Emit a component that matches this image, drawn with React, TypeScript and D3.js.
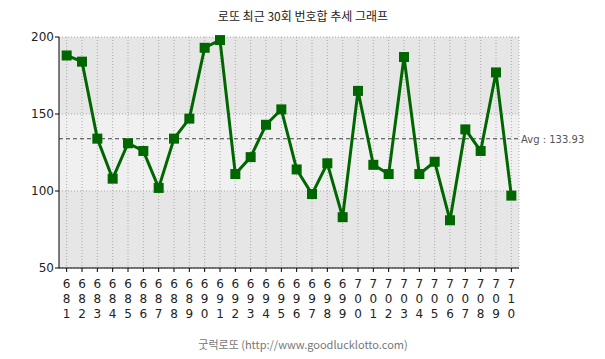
import React from "react";
import * as d3 from "d3";

const rounds = [681,682,683,684,685,686,687,688,689,690,691,692,693,694,695,696,697,698,699,700,701,702,703,704,705,706,707,708,709,710];
const sums = [188,184,134,108,131,126,102,134,147,193,198,111,122,143,153,114,98,118,83,165,117,111,187,111,119,81,140,126,177,97];
const yTicks = [50, 100, 150, 200];
const bands = [[150, 200, "#e6e6e6"], [100, 150, "#f0f0f0"], [50, 100, "#e6e6e6"]] as const;
const title = "로또 최근 30회 번호합 추세 그래프";
const footer = "굿럭로또 (http://www.goodlucklotto.com)";

export default function App() {
  const W = 605, H = 359;
  const left = 59, right = 519, top = 37, bottom = 268;
  const x = d3.scaleBand<number>().domain(rounds).range([left, right]);
  const cx = (r: number) => (x(r) as number) + x.bandwidth() / 2;
  const y = d3.scaleLinear().domain([50, 200]).range([bottom, top]);
  const avg = d3.mean(sums) as number;
  const line = d3.line<number>().x((_, i) => cx(rounds[i])).y((d) => y(d));
  const font = "'DejaVu Sans', Verdana, sans-serif";
  return (
    <svg width={W} height={H} style={{ position: "absolute", left: 0, top: 0, background: "#fff" }}>
      <text x={303} y={21} textAnchor="middle" fontSize={12} fontFamily="'Noto Sans CJK KR', sans-serif" fill="#222">{title}</text>
      {bands.map(([a, b, c], i) => (
        <rect key={i} x={left} y={y(b)} width={right - left} height={y(a) - y(b)} fill={c} />
      ))}
      {rounds.map((r) => (
        <line key={r} x1={cx(r)} x2={cx(r)} y1={top} y2={bottom} stroke="#aaa" strokeDasharray="1,2" />
      ))}
      {yTicks.map((t) => (
        <line key={t} x1={left} x2={right} y1={y(t)} y2={y(t)} stroke="#aaa" strokeDasharray="1,2" />
      ))}
      <line x1={right} x2={right} y1={top} y2={bottom} stroke="#aaa" strokeDasharray="1,2" />
      <line x1={left} x2={right} y1={y(avg)} y2={y(avg)} stroke="#444" strokeDasharray="4,3" />
      <text x={521} y={y(avg) + 4} fontSize={10} fontFamily={font} fill="#555">{`Avg : ${avg.toFixed(2)}`}</text>
      <line x1={left} x2={left} y1={top} y2={bottom} stroke="#000" />
      <line x1={left} x2={right} y1={bottom} y2={bottom} stroke="#000" />
      {yTicks.map((t) => (
        <g key={t}>
          <line x1={left - 4} x2={left} y1={y(t)} y2={y(t)} stroke="#000" />
          <text x={left - 5} y={y(t) + 4} textAnchor="end" fontSize={12} fontFamily={font} fill="#222">{t}</text>
        </g>
      ))}
      {rounds.map((r) => (
        <g key={r}>
          <line x1={cx(r)} x2={cx(r)} y1={bottom} y2={bottom + 4} stroke="#000" />
          {String(r).split("").map((ch, j) => (
            <text key={j} x={cx(r)} y={288 + j * 15} textAnchor="middle" fontSize={12} fontFamily={font} fill="#222">{ch}</text>
          ))}
        </g>
      ))}
      <path d={line(sums) as string} fill="none" stroke="#006600" strokeWidth={3} />
      {sums.map((v, i) => (
        <rect key={i} x={cx(rounds[i]) - 5} y={y(v) - 5} width={10} height={10} fill="#006600" />
      ))}
      <text x={303} y={349} textAnchor="middle" fontSize={11} fontFamily="'Noto Sans CJK KR', sans-serif" fill="#777">{footer}</text>
    </svg>
  );
}
